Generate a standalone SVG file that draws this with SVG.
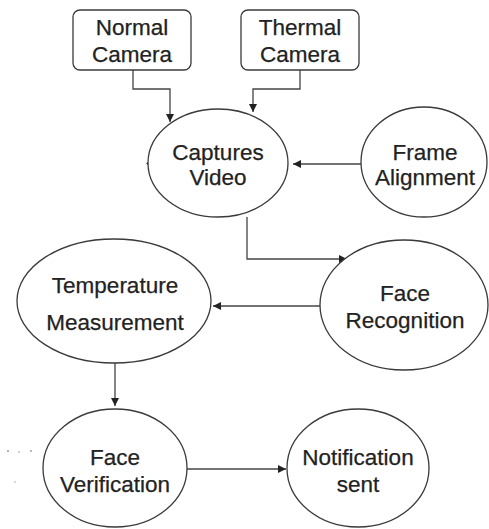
<svg xmlns="http://www.w3.org/2000/svg" width="489" height="529" viewBox="0 0 489 529">
  <style>
    .shape { fill: #ffffff; stroke: #3a3a3a; stroke-width: 1.3; }
    .edge { fill: none; stroke: #444444; stroke-width: 1.3; }
    .label { font-family: "Liberation Sans", Arial, sans-serif; font-size: 22.5px; fill: #222222; stroke: #222222; stroke-width: 0.25; text-anchor: middle; }
    .speck { fill: #9a9a9a; }
  </style>
  <defs>
    <marker id="arrow" viewBox="0 0 10 10" refX="10" refY="5" markerWidth="8" markerHeight="8" markerUnits="userSpaceOnUse" orient="auto">
      <path d="M0,0 L10,5 L0,10 Z" fill="#222222"/>
    </marker>
  </defs>

  <rect width="489" height="529" fill="#ffffff"/>

  <!-- connectors -->
  <g id="connectors">
    <path class="edge" d="M133,70 V89 H170 V122" marker-end="url(#arrow)"/>
    <path class="edge" d="M300,70 V89 H253 V112" marker-end="url(#arrow)"/>
    <path class="edge" d="M361,164 H293" marker-end="url(#arrow)"/>
    <path class="edge" d="M247,217 V259 H347" marker-end="url(#arrow)"/>
    <path class="edge" d="M320,306 H213" marker-end="url(#arrow)"/>
    <path class="edge" d="M115,363 V406" marker-end="url(#arrow)"/>
    <path class="edge" d="M187,469 H286" marker-end="url(#arrow)"/>
  </g>

  <!-- nodes -->
  <g id="normal-camera">
    <rect class="shape" x="73" y="10" width="118" height="60" rx="7"/>
    <text class="label" x="132" y="35">Normal</text>
    <text class="label" x="132" y="62">Camera</text>
  </g>

  <g id="thermal-camera">
    <rect class="shape" x="241" y="10" width="118" height="60" rx="7"/>
    <text class="label" x="300" y="35">Thermal</text>
    <text class="label" x="300" y="62">Camera</text>
  </g>

  <g id="captures-video">
    <ellipse class="shape" cx="218" cy="163" rx="70" ry="54"/>
    <path d="M148,162 l-2,1.5 l2,1.5 Z" fill="#333333"/>
    <text class="label" x="218" y="160">Captures</text>
    <text class="label" x="218" y="185">Video</text>
  </g>

  <g id="frame-alignment">
    <ellipse class="shape" cx="424" cy="162" rx="63" ry="55"/>
    <text class="label" x="425" y="160">Frame</text>
    <text class="label" x="425" y="185">Alignment</text>
  </g>

  <g id="face-recognition">
    <ellipse class="shape" cx="404" cy="305" rx="84" ry="65"/>
    <text class="label" x="405" y="301">Face</text>
    <text class="label" x="405" y="328">Recognition</text>
  </g>

  <g id="temperature-measurement">
    <ellipse class="shape" cx="114" cy="301" rx="97" ry="62"/>
    <text class="label" x="115" y="293">Temperature</text>
    <text class="label" x="115" y="330">Measurement</text>
  </g>

  <g id="face-verification">
    <ellipse class="shape" cx="115" cy="468" rx="72" ry="59"/>
    <text class="label" x="115" y="465">Face</text>
    <text class="label" x="115" y="492">Verification</text>
  </g>

  <g id="notification-sent">
    <ellipse class="shape" cx="358" cy="468" rx="71" ry="59"/>
    <text class="label" x="358" y="465">Notification</text>
    <text class="label" x="358" y="492">sent</text>
  </g>

  <!-- faint specks left of the verification node -->
  <g id="specks">
    <circle class="speck" cx="8" cy="451" r="1"/>
    <circle class="speck" cx="19" cy="452" r="0.8"/>
    <circle class="speck" cx="31" cy="451" r="0.9"/>
    <circle class="speck" cx="15" cy="482" r="0.7"/>
  </g>
</svg>
